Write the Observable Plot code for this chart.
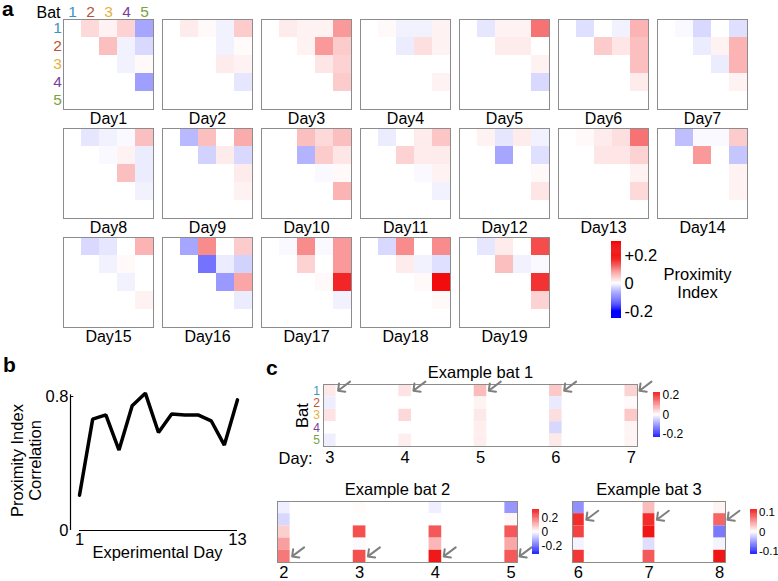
<!DOCTYPE html>
<html><head><meta charset="utf-8">
<script src="https://cdn.jsdelivr.net/npm/d3@7"></script>
<script src="https://cdn.jsdelivr.net/npm/@observablehq/plot@0.6"></script>
<style>
body{margin:0;background:#fff;}
#root{position:relative;width:778px;height:581px;overflow:hidden;background:#fff;font-family:"Liberation Sans",Arial,Helvetica,sans-serif;}
#root > *{position:absolute;}
.plab{font-weight:bold;font-size:21px;line-height:16px;color:#000;}
</style></head><body><div id="root"></div>
<script>
// ---------- data ----------
const bats = [1, 2, 3, 4, 5];
const batColors = ["#3a93c3", "#b8552e", "#e3b23c", "#7b3f98", "#7aa33f"];
// upper-triangle pairs (row bat, column bat)
const pairs = [[1,2],[1,3],[1,4],[1,5],[2,3],[2,4],[2,5],[3,4],[3,5],[4,5]];
const dayNames = ["Day1","Day2","Day3","Day4","Day5","Day6","Day7","Day8","Day9","Day10",
  "Day11","Day12","Day13","Day14","Day15","Day16","Day17","Day18","Day19"];
const day1  = [0.03, 0.01, 0.035, -0.07, 0.05, -0.01, -0.03, -0.01, 0.005, -0.075];
const day2  = [0.015, 0.005, -0.01, 0.04, 0.0, -0.01, 0.003, 0.015, 0.01, -0.02];
const day3  = [0.015, 0.01, 0.01, 0.08, 0.01, 0.08, 0.04, 0.02, 0.035, 0.04];
const day4  = [0.005, -0.01, -0.01, 0.01, -0.015, 0.025, 0.01, 0, 0, 0.01];
const day5  = [-0.02, 0.01, 0.01, 0.11, 0.015, 0.015, 0, 0, 0.01, -0.03];
const day6  = [-0.025, 0, -0.01, 0.06, 0.04, 0.02, 0.05, 0, 0.05, 0.015];
const day7  = [-0.005, -0.03, 0, -0.025, -0.015, 0.01, 0.06, -0.015, 0.06, 0.01];
const day8  = [-0.02, -0.01, -0.005, 0.05, -0.005, 0.01, -0.015, 0.05, -0.015, -0.01];
const day9  = [-0.055, 0.05, 0, 0.065, -0.035, 0.015, -0.03, 0, 0.015, 0.01];
const day10 = [0, 0.05, 0.03, 0.05, -0.06, 0.04, 0.02, -0.005, 0.005, 0.06];
const day11 = [-0.015, 0, 0.015, 0.045, 0.035, 0.015, 0.015, -0.005, 0.01, -0.01];
const day12 = [0.01, -0.02, 0.015, -0.01, -0.07, 0, -0.025, 0, 0.005, 0.02];
const day13 = [0.005, 0.015, 0.025, 0.11, 0.02, 0.02, 0.035, 0, 0.01, 0.03];
const day14 = [-0.05, -0.005, -0.005, 0.04, 0.08, 0, -0.045, 0, 0.01, 0.01];
const day15 = [-0.03, -0.02, 0, 0.06, -0.01, 0.005, 0, -0.01, 0, 0.01];
const day16 = [-0.07, 0.09, 0, 0.04, -0.11, -0.015, -0.035, -0.08, 0.07, -0.015];
const day17 = [-0.005, 0.09, -0.005, 0.08, 0.035, 0, 0.08, 0.005, 0.17, -0.01];
const day18 = [-0.03, 0.09, 0, 0.09, 0.015, -0.01, -0.025, 0.005, 0.19, 0.005];
const day19 = [-0.02, 0.015, 0, 0.14, 0.05, -0.01, -0.005, 0, 0.16, 0.035];
const dayValues = [day1, day2, day3, day4, day5, day6, day7, day8, day9, day10,
  day11, day12, day13, day14, day15, day16, day17, day18, day19];

// panel b
const expDay = [1, 2, 3, 4, 5, 6, 7, 8, 9, 10, 11, 12, 13];
const correlation = [0.21, 0.665, 0.69, 0.48, 0.745, 0.82, 0.585, 0.695, 0.69, 0.69, 0.655, 0.51, 0.78];

// panel c (rows = bats 1..5 for each day)
const ex1Days = [3, 4, 5, 6, 7];
const ex1Values = [
  [0.02, -0.015, 0.025, 0, -0.015],
  [0.025, 0, 0.035, 0, 0.015],
  [0.06, 0.01, 0.02, 0.015, 0.015],
  [0.05, -0.02, 0.03, -0.035, 0.02],
  [0.04, 0.005, 0.05, 0.01, 0.01]
];
const ex2Days = [2, 3, 4, 5];
const ex2Values = [
  [-0.02, -0.05, 0.06, 0.12, 0.17],
  [0.005, 0, 0.22, -0.005, 0.22],
  [-0.02, 0, 0.21, 0.09, 0.29],
  [-0.13, 0.01, 0.21, 0.11, 0.21]
];
const ex3Days = [6, 7, 8];
const ex3Values = [
  [-0.05, 0.095, 0.085, -0.005, 0.09],
  [0.03, 0.095, 0.105, -0.015, 0.075],
  [0.005, 0.07, -0.06, -0.005, 0.105]
];

// ---------- helpers ----------
const FONT = '"Liberation Sans", Arial, Helvetica, sans-serif';
const style = {fontFamily: FONT, fontSize: "16px", background: "transparent", overflow: "visible", color: "#000"};
const root = document.getElementById("root");
function place(el, left, top) { el.style.position = "absolute"; el.style.left = left + "px"; el.style.top = top + "px"; root.appendChild(el); }
function divColor(m) { return {type: "linear", domain: [-m, 0, m], range: ["#0000ff", "#ffffff", "#f00000"], clamp: true}; }
const frameStroke = "#8c8c8c";
const T = (opts) => ({text: d => String(d), lineAnchor: "middle", ...opts});

// ---------- panel a ----------
const colorA = divColor(0.2);
const colLeft = [63, 162, 261, 360, 459, 558, 657];
const rowTop = [19, 128, 237];
function matrix(k) {
  const vals = dayValues[k];
  const data = pairs.map(([i, j], n) => ({i, j, v: vals[n]}));
  const first = k === 0;
  const ml = first ? 42 : 1, mt = first ? 20 : 1;
  const marks = [
    Plot.cell(data, {x: "j", y: "i", fill: "v", inset: 0}),
    Plot.frame({stroke: frameStroke}),
    Plot.text([dayNames[k]], T({frameAnchor: "bottom", dy: 9, fontSize: 16}))
  ];
  if (first) {
    bats.forEach((b, n) => {
      marks.push(Plot.text([b], T({x: d => d, frameAnchor: "top", dy: -7, fill: batColors[n], fontSize: 15.5})));
      marks.push(Plot.text([b], T({y: d => d, frameAnchor: "left", dx: -6, textAnchor: "middle", fill: batColors[n], fontSize: 15.5})));
    });
    marks.push(Plot.text(["Bat"], T({frameAnchor: "top-left", dx: -3, dy: -7, textAnchor: "end", fontSize: 16})));
  }
  const svg = Plot.plot({
    width: ml + 90 + 1, height: mt + 90 + 24,
    marginLeft: ml, marginRight: 1, marginTop: mt, marginBottom: 24,
    x: {type: "band", domain: bats, padding: 0, axis: null},
    y: {type: "band", domain: bats, padding: 0, axis: null},
    color: colorA, style, marks
  });
  const c = k % 7, r = Math.floor(k / 7);
  place(svg, colLeft[c] - ml, rowTop[r] - mt);
}
dayValues.forEach((_, k) => matrix(k));

// colorbar helper
function colorbar({color, lo, hi, ticks, fmt, left, top, w, h, fontSize, pad = 3, extra = []}) {
  const n = 80, step = (hi - lo) / n;
  const ramp = d3.range(n).map(i => lo + i * step);
  const svg = Plot.plot({
    width: w + 40, height: h + 16, marginLeft: 0, marginRight: 40, marginTop: 8, marginBottom: 8,
    x: {domain: [0, 1], axis: null}, y: {domain: [lo, hi], axis: null},
    color, style,
    marks: [
      Plot.rect(ramp, {x1: 0, x2: 1, y1: d => d, y2: d => Math.min(hi, d + step * 1.3), fill: d => d + step / 2}),
      Plot.axisY({anchor: "right", ticks, tickFormat: fmt, tickSize: 0, tickPadding: pad, fontSize}),
      ...extra
    ]
  });
  place(svg, left, top - 8);
}
const signed = d => d > 0 ? "+" + d : d < 0 ? "-" + Math.abs(d) : "0";
const plain = d => d < 0 ? "-" + Math.abs(d) : String(d);
colorbar({color: colorA, lo: -0.25, hi: 0.3, ticks: [0.2, 0, -0.2], fmt: signed,
  left: 611, top: 241, w: 10, h: 77, fontSize: 16.5, pad: 3,
  extra: [Plot.text(["Proximity\nIndex"], T({frameAnchor: "right", textAnchor: "middle", dx: 76, dy: 3, lineHeight: 1.12, fontSize: 16.5}))]});

// ---------- panel b ----------
const xLo = 0.316;
const pb = Plot.plot({
  width: 262, height: 240, marginLeft: 70, marginRight: 25, marginTop: 56, marginBottom: 50,
  x: {domain: [xLo, 13], axis: null}, y: {domain: [0, 0.8], axis: null}, style,
  marks: [
    Plot.ruleX([xLo], {y1: 0, y2: 0.81, stroke: "#000", strokeWidth: 1.2}),
    Plot.ruleY([0], {x1: expDay[0], x2: expDay[expDay.length - 1], stroke: "#000", strokeWidth: 1.2}),
    Plot.ruleY([0.8], {x1: xLo, x2: xLo + 0.25, stroke: "#000", strokeWidth: 1}),
    Plot.line(expDay, {x: d => d, y: (d, i) => correlation[i], stroke: "#000", strokeWidth: 3.5, strokeLinejoin: "miter"}),
    Plot.axisY({ticks: [0, 0.8], tickFormat: d => d === 0 ? "0" : "0.8", tickSize: 0, tickPadding: 2, fontSize: 16.5}),
    Plot.axisX({ticks: [1, 13], tickFormat: d => String(d), tickSize: 0, tickPadding: 3, fontSize: 16.5}),
    Plot.text(["Experimental Day"], T({frameAnchor: "bottom", textAnchor: "middle", dx: 3.5, dy: 22, fontSize: 16.5})),
    Plot.text(["Proximity Index"], T({frameAnchor: "left", textAnchor: "middle", dx: -53, dy: -3, rotate: -90, fontSize: 16.5})),
    Plot.text(["Correlation"], T({frameAnchor: "left", textAnchor: "middle", dx: -35, dy: -3, rotate: -90, fontSize: 16.5}))
  ]
});
place(pb, 0, 340);

// ---------- panel c ----------
function example({days, vals, arrowBat, cmax, title, frameLeft, frameTop, frameW, frameH, showBat, tickPad}) {
  const hw = 1 / 12;
  const cells = days.flatMap((d, k) => bats.map((b, r) => ({day: d, bat: b, v: vals[k][r]})));
  const tips = days.map(d => ({day: d, bat: arrowBat}));
  const ml = showBat ? 53 : 10, mt = 30, mb = 26, mr = 22;
  const marks = [
    Plot.rect(cells, {x1: d => d.day - hw, x2: d => d.day + hw, y1: d => d.bat - 0.5, y2: d => d.bat + 0.5, fill: "v"}),
    Plot.frame({stroke: frameStroke}),
    Plot.vector(tips, {x: d => d.day + hw, y: "bat", dx: 2, length: 15, rotate: 233, anchor: "end", r: 6, stroke: "#7f7f7f", strokeWidth: 2}),
    Plot.axisX({ticks: days, tickFormat: d => String(d), tickSize: 0, tickPadding: tickPad, fontSize: 16.5}),
    Plot.text([title], T({frameAnchor: "top", dy: -12, fontSize: 16.5}))
  ];
  if (showBat) {
    bats.forEach((b, n) => marks.push(Plot.text([b], T({y: d => d, frameAnchor: "left", textAnchor: "middle", dx: -7, fill: batColors[n], fontSize: 12}))));
    marks.push(Plot.text(["Bat"], T({frameAnchor: "left", textAnchor: "middle", dx: -21, rotate: -90, fontSize: 16.5})));
    marks.push(Plot.text(["Day:"], T({frameAnchor: "bottom-left", dx: -11, dy: 12, textAnchor: "end", fontSize: 16.5})));
  }
  const svg = Plot.plot({
    width: ml + frameW + mr, height: mt + frameH + mb,
    marginLeft: ml, marginRight: mr, marginTop: mt, marginBottom: mb,
    x: {domain: [days[0] - hw, days[days.length - 1] + hw], axis: null},
    y: {domain: [5.5, 0.5], axis: null},
    color: divColor(cmax), style, marks
  });
  place(svg, frameLeft - ml, frameTop - mt);
}
example({days: ex1Days, vals: ex1Values, arrowBat: 1, cmax: 0.23, title: "Example bat 1",
  frameLeft: 323, frameTop: 384, frameW: 314, frameH: 62, showBat: true, tickPad: 5});
example({days: ex2Days, vals: ex2Values, arrowBat: 5, cmax: 0.32, title: "Example bat 2",
  frameLeft: 277, frameTop: 501, frameW: 240, frameH: 61, showBat: false, tickPad: 4});
example({days: ex3Days, vals: ex3Values, arrowBat: 2, cmax: 0.115, title: "Example bat 3",
  frameLeft: 572, frameTop: 501, frameW: 153, frameH: 61, showBat: false, tickPad: 4});

colorbar({color: divColor(0.23), lo: -0.23, hi: 0.23, ticks: [0.2, 0, -0.2], fmt: plain,
  left: 653, top: 392, w: 7, h: 45, fontSize: 12, pad: 2});
colorbar({color: divColor(0.32), lo: -0.32, hi: 0.32, ticks: [0.2, 0, -0.2], fmt: plain,
  left: 532, top: 509, w: 7, h: 45, fontSize: 12, pad: 2});
colorbar({color: divColor(0.115), lo: -0.115, hi: 0.115, ticks: [0.1, 0, -0.1], fmt: plain,
  left: 750, top: 509, w: 7, h: 45, fontSize: 11.5, pad: 1.5});

// panel letters
[["a", 2, 1], ["b", 3, 357], ["c", 266, 360]].forEach(([t, x, y]) => {
  const d = document.createElement("div"); d.className = "plab"; d.textContent = t; place(d, x, y);
});
</script></body></html>
